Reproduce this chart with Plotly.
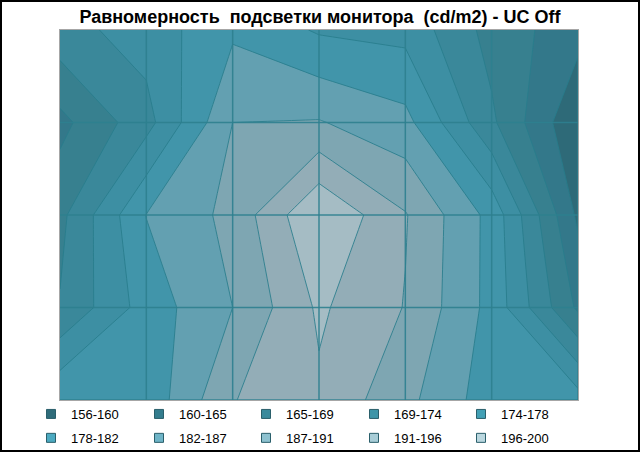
import plotly.graph_objects as go

# grid positions (columns left->right, rows top->bottom)
cols = [0, 1, 2, 3, 4, 5, 6]
rows = [0, 1, 2, 3, 4]

# luminance values (cd/m2) per row, top to bottom
row0 = [172.0, 175.5, 181.6, 177.5, 176.6, 167.6, 162.0]
row1 = [163.5, 172.0, 186.8, 187.1, 183.8, 170.0, 156.4]
row2 = [168.0, 182.5, 188.1, 200.0, 191.5, 181.0, 159.5]
row3 = [169.5, 180.0, 186.8, 196.3, 191.0, 181.0, 164.0]
row4 = [182.0, 179.3, 191.0, 194.8, 188.1, 180.0, 180.0]

band_labels = ["156-160", "160-165", "165-169", "169-174", "174-178",
               "178-182", "182-187", "187-191", "191-196", "196-200"]
band_min = 156.0
band_step = 4.4

fill_colors = ["#2e6a78", "#33788a", "#37808f", "#3a889a", "#3d8fa3",
               "#4195aa", "#63a0b1", "#7ea6b2", "#93adb7", "#a5bcc4"]
legend_colors = ["#2f6c7a", "#347d8e", "#3a8a9c", "#3e95a8", "#42a0b5",
                 "#4caac1", "#6eb4c7", "#8ec2d0", "#a8cdd7", "#bad7df"]

z = [row0, row1, row2, row3, row4]

nb = len(band_labels)
cscale = []
for i, c in enumerate(fill_colors):
    lo = 0.0 if i == 0 else (i - 0.5) / (nb - 1)
    hi = 1.0 if i == nb - 1 else (i + 0.5) / (nb - 1)
    cscale.append([lo, c])
    cscale.append([hi, c])

fig = go.Figure()
fig.add_trace(go.Contour(
    x=cols, y=rows, z=z,
    contours=dict(start=band_min + band_step, end=band_min + band_step * (nb - 1) + 0.01,
                  size=band_step, coloring="fill", showlines=True),
    line=dict(color="rgba(40,125,140,0.85)", width=1, smoothing=0),
    colorscale=cscale, showscale=False, showlegend=False, hoverinfo="skip",
))

W, H = 640, 452
ml, mr, mt, mb = 60, 62, 30, 52
pw, ph = W - ml - mr, H - mt - mb

# legend: 5 columns x 2 rows, one small legend per column
ncol = 5
legend_col_x = [51, 159, 266, 374, 481]   # marker centres, px
legend_top = 399
legend_layouts = {}
for i, (lab, col) in enumerate(zip(band_labels, legend_colors)):
    k = i % ncol
    lname = "legend" if k == 0 else f"legend{k + 1}"
    fig.add_trace(go.Scatter(
        x=[None], y=[None], mode="markers", name=lab, legend=lname, legendgroup=lab,
        marker=dict(symbol="square", size=9, color=col,
                    line=dict(color="#2a5f6b", width=1)),
        showlegend=True, hoverinfo="skip",
    ))
    legend_layouts[lname] = dict(
        orientation="v", xref="container", yref="container",
        x=(legend_col_x[k] - 20) / W, xanchor="left",
        y=1 - legend_top / H, yanchor="top", itemwidth=30, tracegroupgap=4,
        font=dict(family="Liberation Sans", size=13, color="black"),
        bgcolor="rgba(0,0,0,0)", itemclick=False, itemdoubleclick=False,
    )

grid_color = "rgba(45,128,143,0.9)"
shapes = []
for c in cols[1:]:
    shapes.append(dict(type="line", xref="x", yref="y", x0=c, x1=c, y0=rows[0], y1=rows[-1],
                       line=dict(color=grid_color, width=1.5), layer="above"))
for r in rows[1:]:
    shapes.append(dict(type="line", xref="x", yref="y", x0=cols[0], x1=cols[-1], y0=r, y1=r,
                       line=dict(color=grid_color, width=1.5), layer="above"))

# outer black frame
shapes.append(dict(type="rect", xref="paper", yref="paper",
                   x0=(1 - ml) / pw, x1=(W - 1 - ml) / pw,
                   y0=-(mb - 1) / ph, y1=1 + (mt - 1) / ph,
                   line=dict(color="black", width=2), layer="above"))

fig.update_layout(
    width=W, height=H,
    margin=dict(l=ml, r=mr, t=mt, b=mb, pad=0, autoexpand=False),
    paper_bgcolor="white", plot_bgcolor="white",
    title=dict(text="<b>Равномерность  подсветки монитора  (cd/m2) - UC Off</b>",
               x=0.5, xanchor="center", y=1 - 17 / H, yanchor="middle", yref="container",
               font=dict(family="Liberation Sans", size=18, color="black")),
    xaxis=dict(range=[cols[0], cols[-1]], showgrid=False, zeroline=False, showticklabels=False,
               ticks="", showline=True, mirror=True, linecolor="#a6a6a6", linewidth=1),
    yaxis=dict(range=[rows[-1], rows[0]], showgrid=False, zeroline=False, showticklabels=False,
               ticks="", showline=True, mirror=True, linecolor="#a6a6a6", linewidth=1),
    shapes=shapes,
    **legend_layouts,
)

fig.write_html("out.html", post_script="document.body.style.margin='0';",
               config={"displayModeBar": False})
